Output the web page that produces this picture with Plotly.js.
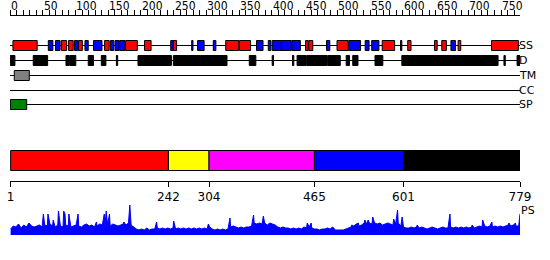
<!DOCTYPE html>
<html><head><meta charset="utf-8">
<script src="https://cdn.plot.ly/plotly-3.0.1.min.js"></script>
<style>html,body{margin:0;padding:0;background:#fff;}#chart{width:550px;height:260px;}</style>
</head><body><div id="chart"></div>
<script>
// ---------- data ----------
const seqLength = 779;
const rulerTicks = [0,50,100,150,200,250,300,350,400,450,500,550,600,650,700,750];
const rulerMinor = [0,10,20,30,40,50,60,70,80,90,100,110,120,130,140,150,160,170,180,190,200,210,220,230,240,250,260,270,280,290,300,310,320,330,340,350,360,370,380,390,400,410,420,430,440,450,460,470,480,490,500,510,520,530,540,550,560,570,580,590,600,610,620,630,640,650,660,670,680,690,700,710,720,730,740,750,760,770];

// secondary structure (H = helix red, E = strand blue)
const ssStart = [5,59,70,79,90,99,105,115,128,145,154,161,168,177,206,246,250,278,287,311,330,351,377,395,401,415,431,452,457,484,500,518,543,553,569,597,608,649,660,674,685,736];
const ssEnd   = [41,65,76,86,96,103,110,119,140,151,158,166,175,194,215,249,254,279,296,314,349,367,386,398,414,429,443,455,462,488,516,535,548,563,587,598,612,652,666,680,688,776];
const ssType  = ['H','E','E','H','H','E','H','E','E','H','E','E','E','H','H','E','H','E','E','E','H','H','E','E','E','E','E','H','H','E','H','E','E','E','H','E','H','H','H','E','H','H'];

// disorder
const disStart = [1,36,86,92,120,140,163,196,250,292,366,401,432,439,454,486,514,524,558,599,755,775];
const disEnd   = [7,57,90,100,127,146,164,246,291,331,375,402,433,452,484,504,518,531,569,745,756,779];

const tmStart = [7];  const tmEnd = [29];
const ccStart = [];   const ccEnd = [];
const spStart = [1];  const spEnd = [25];

const domainBounds = [1,242,304,465,601,779];
const domainColors = ['#ff0000','#ffff00','#ff00ff','#0000ff','#000000'];
const trackLabels = ['SS','D','TM','CC','SP'];

// PS profile
const psBasePos = [1,5,9,13,17,21,25,29,33,37,
 41,45,49,53,57,61,65,69,73,77,81,85,89,93,97,101,105,109,113,117,121,125,129,133,137,141,145,149,153,157,161,165,169,173,177,181,185,189,
 193,197,201,205,209,213,217,221,225,229,233,237,241,245,249,253,257,261,265,269,273,277,281,285,289,293,297,301,305,309,313,317,321,325,329,333,337,341,345,349,353,357,361,365,
 369,373,377,381,385,389,393,397,401,405,409,
 413,417,421,425,429,433,437,441,445,449,453,457,461,465,469,473,477,481,485,489,493,497,501,505,509,513,517,
 521,525,529,533,537,541,545,549,553,557,561,565,569,573,577,581,585,589,593,597,
 601,605,609,613,617,621,625,629,633,637,641,645,649,653,657,661,665,669,673,677,681,685,689,693,697,701,705,709,713,717,721,725,729,733,737,741,745,749,753,757,761,765,769,773,777];
const psBaseVal = [6,9,8,11,7,10,8,12,9,8,
 9,10,8,10,9,11,9,8,10,9,8,10,9,8,9,10,9,8,10,11,9,10,8,9,11,10,9,10,9,11,10,9,10,11,10,12,10,8,
 6,5,6,5,7,5,6,6,7,6,7,6,7,6,7,6,7,6,7,6,7,6,7,6,7,6,7,6,8,6,5,6,5,6,5,6,8,9,8,7,8,7,8,8,
 9,12,11,12,11,12,10,12,11,10,8,
 7,8,7,7,6,7,6,7,6,8,7,8,7,6,6,5,6,6,7,6,8,5,5,5,5,6,7,
 8,9,11,9,10,12,11,12,11,12,11,12,10,11,12,11,10,11,12,9,
 8,7,7,8,7,8,7,8,7,6,7,8,7,6,7,8,7,7,8,7,8,7,8,7,8,7,8,7,8,9,8,9,8,9,8,9,8,9,8,9,10,9,10,9,9];
const psPeakPos = [51,58,66,74,82,84,90,104,132,144,147,152,174,183,224,250,303,336,372,387,454,460,522,532,542,547,554,586,592,599,622,672,706,722,736,762,772,779];
const psPeakVal = [21,21,15,24,24,21,21,21,13,21,24,21,13,30,13,14,11,17,20,19,12,12,10,12,15,15,18,16,25,18,10,21,10,15,13,12,12,21];

// ---------- build ----------
const H = 260;
const trackY = [45.5, 60.5, 75.5, 90.5, 104.5];
const shapes = [];
const annotations = [];
const txtFont = {family: 'DejaVu Sans, sans-serif', size: 11, color: '#000'};

// track base lines
trackY.forEach(y => shapes.push({type:'line', xref:'x', yref:'y', x0:0, x1:seqLength, y0:y, y1:y, line:{color:'#000', width:1}, layer:'above'}));
function boxes(starts, ends, colors, yc, half) {
  starts.forEach((s,i) => shapes.push({type:'rect', xref:'x', yref:'y', x0:s-0.5, x1:ends[i]+0.5, y0:yc-half, y1:yc+half,
    fillcolor: colors[i], line:{color:'#000', width:1}, layer:'above'}));
}
boxes(ssStart, ssEnd, ssType.map(t => t === 'H' ? '#ff0000' : '#0000ff'), 45.5, 5);
boxes(disStart, disEnd, disStart.map(() => '#000000'), 60.5, 5);
boxes(tmStart, tmEnd, tmStart.map(() => '#808080'), 75.5, 5);
boxes(ccStart, ccEnd, ccStart.map(() => '#ffcc00'), 90.5, 5);
boxes(spStart, spEnd, spStart.map(() => '#008000'), 104.5, 5);

trackLabels.forEach((t,i) => annotations.push({text:t, xref:'paper', x:1, xanchor:'left', yref:'y', y:trackY[i], yanchor:'middle',
  showarrow:false, font:txtFont, xshift:-2, borderpad:0}));

// domain bar
for (let i = 0; i < domainColors.length; i++) {
  shapes.push({type:'rect', xref:'x', yref:'y', x0:domainBounds[i], x1:domainBounds[i+1], y0:150.5, y1:170.5,
    fillcolor:domainColors[i], line:{color:'#000', width:1}, layer:'above'});
}

// ruler labels
rulerTicks.forEach(v => annotations.push({text:String(v), xref:'x', x:v, xanchor:'left', yref:'y', y:14, yanchor:'bottom',
  showarrow:false, font:{family:'Liberation Sans Narrow, DejaVu Sans Condensed, DejaVu Sans, sans-serif', size:12, color:'#000'}, borderpad:0, xshift:0}));

annotations.push({text:'PS', xref:'paper', x:1, xanchor:'left', yref:'y', y:210, yanchor:'middle', showarrow:false, font:txtFont, borderpad:0});

// PS merged series
const psPts = psBasePos.map((p,i) => [p, psBaseVal[i]]).concat(psPeakPos.map((p,i) => [p, psPeakVal[i]])).sort((a,b) => a[0]-b[0]);

const traces = [
  {x:psPts.map(p=>p[0]), y:psPts.map(p=>p[1]), type:'scatter', mode:'lines', fill:'tozeroy',
   line:{color:'#0000ff', width:1}, fillcolor:'#0000ff', xaxis:'x', yaxis:'y2', hoverinfo:'skip'},
  {x:[0], y:[-100], type:'scatter', mode:'markers', marker:{opacity:0}, xaxis:'x', yaxis:'y', hoverinfo:'skip'},
  {x:[0], y:[-100], type:'scatter', mode:'markers', marker:{opacity:0}, xaxis:'x2', yaxis:'y', hoverinfo:'skip'}
];

const layout = {
  width:550, height:260, margin:{l:10, r:30, t:0, b:0}, showlegend:false,
  paper_bgcolor:'#fff', plot_bgcolor:'#fff',
  xaxis:{range:[0, seqLength], anchor:'free', position:1-181/H, side:'bottom', showline:true, linecolor:'#000', linewidth:1,
    ticks:'outside', ticklen:5, tickcolor:'#000', tickmode:'array', tickvals:domainBounds, ticktext:domainBounds.map(String),
    tickfont:{family:'DejaVu Sans, sans-serif', size:12, color:'#000'}, showgrid:false, zeroline:false, fixedrange:true},
  xaxis2:{matches:'x', overlaying:'x', anchor:'free', position:1-15/H, side:'top', showline:true, linecolor:'#000', linewidth:1,
    ticks:'outside', ticklen:5, tickcolor:'#000', tickmode:'array', tickvals:rulerMinor, showticklabels:false,
    showgrid:false, zeroline:false},
  yaxis:{range:[H, 0], domain:[0,1], visible:false, fixedrange:true},
  yaxis2:{range:[0, 30], domain:[1-235/H, 1-205/H], anchor:'x', visible:false, fixedrange:true},
  shapes:shapes, annotations:annotations
};

Plotly.newPlot('chart', traces, layout, {staticPlot:true, displayModeBar:false});
</script></body></html>
